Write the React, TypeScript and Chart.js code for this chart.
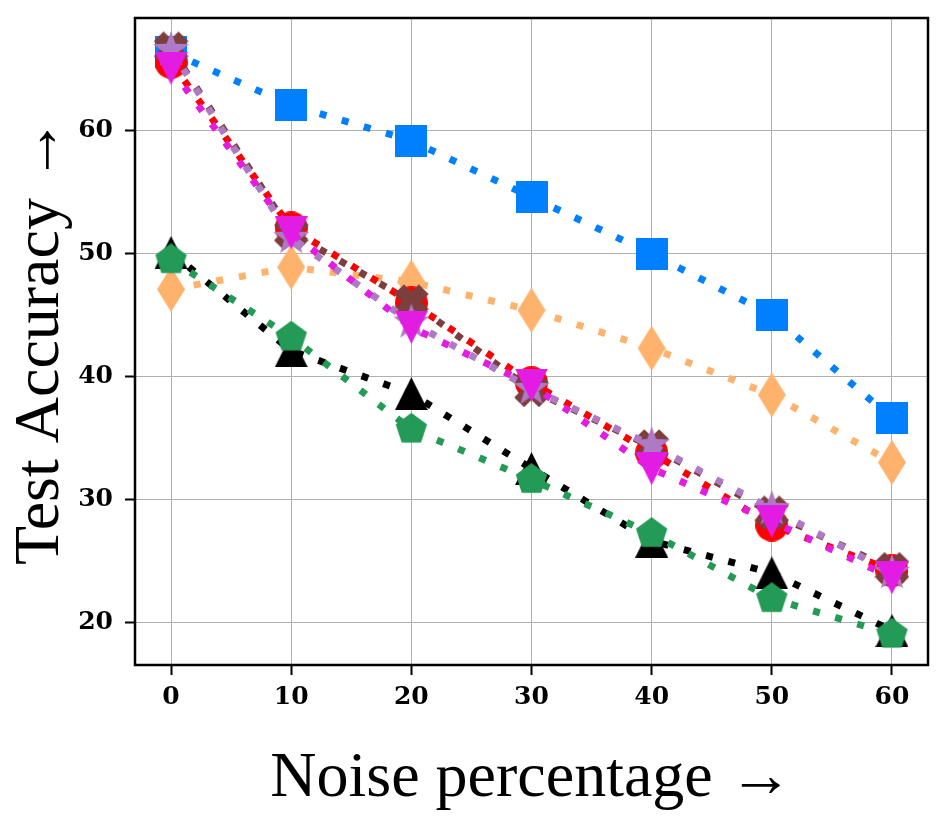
import {
  Chart,
  type ChartConfiguration,
  type ChartDataset,
  type Plugin,
  registerables,
} from "chart.js";
import { useEffect, useRef } from "react";

Chart.register(...registerables);

const noise = [0, 10, 20, 30, 40, 50, 60];
const xTicks = [0, 10, 20, 30, 40, 50, 60];
const yTicks = [20, 30, 40, 50, 60];

const blueSquare = [66.4, 62.1, 59.2, 54.6, 50.0, 45.0, 36.6];
const orangeDiamond = [47.1, 48.9, 47.7, 45.4, 42.3, 38.5, 33.0];
const redCircle = [65.6, 52.1, 46.0, 39.5, 33.8, 27.9, 24.2];
const brownCross = [66.7, 51.7, 46.1, 38.9, 34.3, 28.9, 24.3];
const purpleStar = [66.6, 51.3, 44.4, 39.0, 34.4, 29.2, 24.0];
const magentaDown = [65.1, 51.7, 44.0, 39.3, 32.5, 28.2, 23.6];
const blackUp = [50.1, 42.1, 38.6, 32.5, 26.6, 24.0, 19.3];
const greenPentagon = [49.5, 43.2, 35.7, 31.6, 27.2, 21.9, 19.0];

type Shape = "square" | "circle" | "diamond" | "x" | "star" | "down" | "up" | "pentagon";

function polygon(ctx: CanvasRenderingContext2D, pts: [number, number][]) {
  ctx.moveTo(pts[0][0], pts[0][1]);
  for (const [px, py] of pts.slice(1)) ctx.lineTo(px, py);
  ctx.closePath();
}

function marker(shape: Shape, color: string, w: number, h: number) {
  const c = document.createElement("canvas");
  c.width = w;
  c.height = h;
  const ctx = c.getContext("2d")!;
  ctx.fillStyle = color;
  const cx = w / 2;
  const cy = h / 2;
  const r = Math.min(w, h) / 2;
  ctx.beginPath();
  if (shape === "square") {
    ctx.rect(0, 0, w, h);
  } else if (shape === "circle") {
    ctx.arc(cx, cy, r, 0, Math.PI * 2);
  } else if (shape === "diamond") {
    polygon(ctx, [[cx, 0], [w, cy], [cx, h], [0, cy]]);
  } else if (shape === "up") {
    polygon(ctx, [[cx, 0], [w, h], [0, h]]);
  } else if (shape === "down") {
    polygon(ctx, [[0, 0], [w, 0], [cx, h]]);
  } else if (shape === "x") {
    const a = 0.4;
    const plus: [number, number][] = [
      [-a, -1], [a, -1], [a, -a], [1, -a], [1, a], [a, a],
      [a, 1], [-a, 1], [-a, a], [-1, a], [-1, -a], [-a, -a],
    ];
    const k = Math.SQRT1_2;
    polygon(
      ctx,
      plus.map(([px, py]) => [cx + r * k * (px - py), cy + r * k * (px + py)]),
    );
  } else if (shape === "star" || shape === "pentagon") {
    const pts: [number, number][] = [];
    const n = shape === "star" ? 10 : 5;
    for (let i = 0; i < n; i++) {
      const ang = -Math.PI / 2 + (i * Math.PI * 2) / n;
      const rr = shape === "star" && i % 2 === 1 ? r * 0.4 : r;
      pts.push([cx + rr * Math.cos(ang), cy + rr * Math.sin(ang)]);
    }
    polygon(ctx, pts);
  }
  ctx.fill();
  return c;
}

function series(
  data: number[],
  color: string,
  style: HTMLCanvasElement,
  layer: number,
): ChartDataset<"line"> {
  return {
    data: data.map((y, i) => ({ x: noise[i], y })),
    borderColor: color,
    backgroundColor: color,
    borderWidth: 7,
    borderDash: [7, 16],
    pointStyle: style,
    pointRadius: 16,
    fill: false,
    tension: 0,
    order: 100 - layer,
  };
}

// axes frame drawn over the lines, like matplotlib spines
const framePlugin: Plugin<"line"> = {
  id: "frame",
  afterDatasetsDraw(chart) {
    const { ctx, chartArea } = chart;
    ctx.save();
    ctx.strokeStyle = "#000000";
    ctx.lineWidth = 2.5;
    ctx.strokeRect(
      chartArea.left,
      chartArea.top,
      chartArea.right - chartArea.left,
      chartArea.bottom - chartArea.top,
    );
    ctx.restore();
  },
};

const tickFont = { family: "'DejaVu Serif'", size: 25, weight: "bold" as const };
const titleFont = { family: "'Liberation Serif'", size: 64, weight: "normal" as const };

const grid = {
  color: "#b0b0b0",
  lineWidth: 1,
  tickColor: "#000000",
  tickWidth: 2,
  tickLength: 10,
};

function buildConfig(): ChartConfiguration<"line"> {
  return {
    type: "line",
    data: {
      datasets: [
        series(blueSquare, "#0080ff", marker("square", "#0080ff", 32, 32), 0),
        series(orangeDiamond, "#ffb26b", marker("diamond", "#ffb26b", 28, 45), 1),
        series(redCircle, "#ff0000", marker("circle", "#ff0000", 33, 33), 2),
        series(brownCross, "#7d3e3e", marker("x", "#7d3e3e", 35, 35), 3),
        series(purpleStar, "#af7ac5", marker("star", "#af7ac5", 38, 38), 4),
        series(magentaDown, "#e31ce3", marker("down", "#e31ce3", 33, 33), 5),
        series(blackUp, "#000000", marker("up", "#000000", 33, 33), 6),
        series(greenPentagon, "#239a56", marker("pentagon", "#239a56", 33, 33), 7),
      ],
    },
    options: {
      animation: false,
      responsive: true,
      maintainAspectRatio: false,
      layout: { autoPadding: false, padding: { top: 18, right: 22, left: 0, bottom: 0 } },
      plugins: { legend: { display: false }, tooltip: { enabled: false } },
      scales: {
        x: {
          type: "linear",
          min: -3,
          max: 63,
          afterBuildTicks(scale) {
            scale.ticks = xTicks.map((value) => ({ value }));
          },
          afterFit(scale) {
            scale.height = 161;
            scale.paddingLeft = 0;
            scale.paddingRight = 0;
          },
          border: { display: false },
          grid,
          ticks: { color: "#000000", font: tickFont, padding: 7, maxRotation: 0 },
          title: {
            display: true,
            text: "Noise percentage →",
            color: "#000000",
            font: titleFont,
            padding: { top: 8, bottom: 8 },
          },
        },
        y: {
          type: "linear",
          min: 16.5,
          max: 69.2,
          afterBuildTicks(scale) {
            scale.ticks = yTicks.map((value) => ({ value }));
          },
          afterFit(scale) {
            scale.width = 135;
            scale.paddingTop = 0;
            scale.paddingBottom = 0;
          },
          border: { display: false },
          grid,
          ticks: { color: "#000000", font: tickFont, padding: 12 },
          title: {
            display: true,
            text: "Test Accuracy →",
            color: "#000000",
            font: titleFont,
            padding: { top: 3, bottom: 3 },
          },
        },
      },
    },
    plugins: [framePlugin],
  };
}

export default function App() {
  const canvasRef = useRef<HTMLCanvasElement>(null);

  useEffect(() => {
    if (!canvasRef.current) {
      return;
    }
    const chart = new Chart(canvasRef.current, buildConfig());
    return () => {
      chart.destroy();
    };
  }, []);

  return (
    <div style={{ position: "absolute", left: 0, top: 0, width: 950, height: 826, background: "#ffffff" }}>
      <canvas ref={canvasRef} />
    </div>
  );
}
